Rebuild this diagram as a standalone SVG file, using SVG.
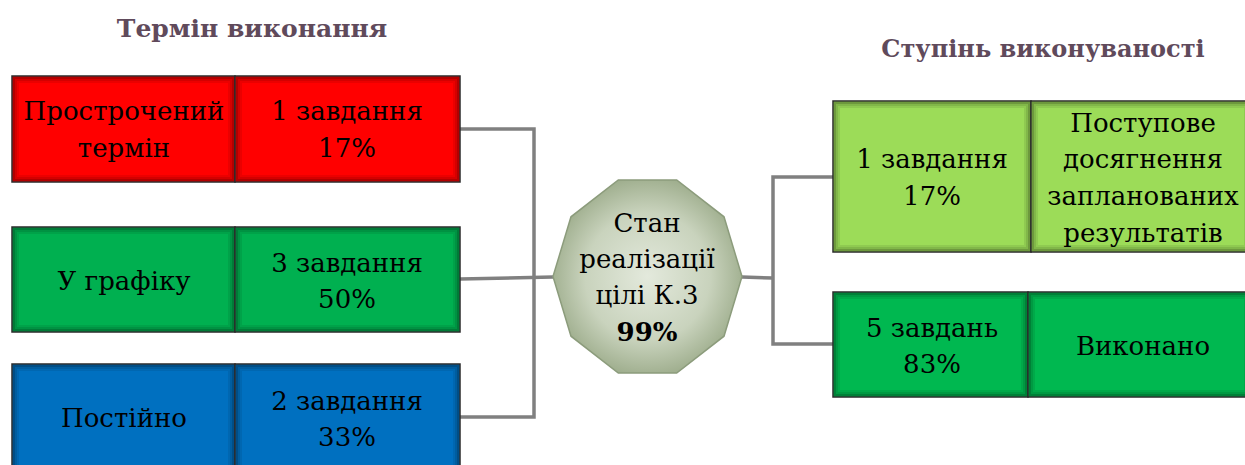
<svg xmlns="http://www.w3.org/2000/svg" width="1245" height="465" viewBox="0 0 1245 465">
<style>
.t{font-family:"DejaVu Serif","Liberation Serif",serif;font-size:26px;fill:#000;text-anchor:middle}
.b{font-weight:bold}
.title{font-family:"DejaVu Serif","Liberation Serif",serif;font-size:25px;font-weight:bold;fill:#604a5b;text-anchor:middle}
.cell{stroke:#2a2a2a;stroke-width:1.5}
.s1,.s2,.s3{fill:none;stroke:#000;stroke-width:2}
.s1{stroke-opacity:0.3}
.s2{stroke-opacity:0.17}
.s3{stroke-opacity:0.08}
.conn{fill:none;stroke:#808080;stroke-width:3.5;stroke-linejoin:miter}
</style>
<defs>
<radialGradient id="oct" cx="50%" cy="50%" r="55%">
<stop offset="0" stop-color="#e3e9dc"/>
<stop offset="0.6" stop-color="#c9d3bd"/>
<stop offset="1" stop-color="#98a886"/>
</radialGradient>
</defs>

<text class="title" x="252" y="37">Термін виконання</text>
<text class="title" x="1043" y="57" style="font-size:24px">Ступінь виконуваності</text>

<g id="connectors">
<polyline class="conn" points="460,129 534,129 534,417 460,417"/>
<line class="conn" x1="460" y1="279" x2="553" y2="277"/>
<line class="conn" x1="742" y1="277" x2="773" y2="278"/>
<polyline class="conn" points="833,177 773,177 773,344 833,344"/>
</g>

<g id="overdue">
<rect class="cell" x="12" y="76" width="223" height="106" fill="#ff0000"/>
<rect class="cell" x="235" y="76" width="225" height="106" fill="#ff0000"/>
<rect class="s1" x="14" y="78" width="219" height="102"/><rect class="s2" x="16" y="80" width="215" height="98"/><rect class="s3" x="18" y="82" width="211" height="94"/>
<rect class="s1" x="237" y="78" width="221" height="102"/><rect class="s2" x="239" y="80" width="217" height="98"/><rect class="s3" x="241" y="82" width="213" height="94"/>
<text class="t" x="124" y="120">Прострочений</text>
<text class="t" x="124" y="157">термін</text>
<text class="t" x="347" y="120">1 завдання</text>
<text class="t" x="347" y="157">17%</text>
</g>

<g id="onschedule">
<rect class="cell" x="12" y="227" width="223" height="105" fill="#00b050"/>
<rect class="cell" x="235" y="227" width="225" height="105" fill="#00b050"/>
<rect class="s1" x="14" y="229" width="219" height="101"/><rect class="s2" x="16" y="231" width="215" height="97"/><rect class="s3" x="18" y="233" width="211" height="93"/>
<rect class="s1" x="237" y="229" width="221" height="101"/><rect class="s2" x="239" y="231" width="217" height="97"/><rect class="s3" x="241" y="233" width="213" height="93"/>
<text class="t" x="124" y="290">У графіку</text>
<text class="t" x="347" y="272">3 завдання</text>
<text class="t" x="347" y="308">50%</text>
</g>

<g id="permanent">
<rect class="cell" x="12" y="364" width="223" height="110" fill="#0070c0"/>
<rect class="cell" x="235" y="364" width="225" height="110" fill="#0070c0"/>
<rect class="s1" x="14" y="366" width="219" height="106"/><rect class="s2" x="16" y="368" width="215" height="102"/><rect class="s3" x="18" y="370" width="211" height="98"/>
<rect class="s1" x="237" y="366" width="221" height="106"/><rect class="s2" x="239" y="368" width="217" height="102"/><rect class="s3" x="241" y="370" width="213" height="98"/>
<text class="t" x="124" y="427">Постійно</text>
<text class="t" x="347" y="410">2 завдання</text>
<text class="t" x="347" y="446">33%</text>
</g>

<g id="center">
<polygon points="742,276.5 724,216.8 676.7,180 618.3,180 571,216.8 553,276.5 571,336.2 618.3,373 676.7,373 724,336.2" fill="url(#oct)" stroke="#8c9c7c" stroke-width="1.5"/>
<text class="t" x="647" y="232">Стан</text>
<text class="t" x="647" y="268">реалізації</text>
<text class="t" x="647" y="304">цілі К.3</text>
<text class="t b" x="647" y="341">99%</text>
</g>

<g id="progressive">
<rect class="cell" x="833" y="101" width="198" height="151" fill="#9cdc58"/>
<rect class="cell" x="1031" y="101" width="220" height="151" fill="#9cdc58"/>
<rect class="s1" x="835" y="103" width="194" height="147"/><rect class="s2" x="837" y="105" width="190" height="143"/><rect class="s3" x="839" y="107" width="186" height="139"/>
<rect class="s1" x="1033" y="103" width="216" height="147"/><rect class="s2" x="1035" y="105" width="212" height="143"/><rect class="s3" x="1037" y="107" width="208" height="139"/>
<text class="t" x="932" y="168">1 завдання</text>
<text class="t" x="932" y="205">17%</text>
<text class="t" x="1143" y="132">Поступове</text>
<text class="t" x="1143" y="168">досягнення</text>
<text class="t" x="1143" y="205">запланованих</text>
<text class="t" x="1143" y="242">результатів</text>
</g>

<g id="done">
<rect class="cell" x="833" y="292" width="195" height="105" fill="#00b850"/>
<rect class="cell" x="1028" y="292" width="223" height="105" fill="#00b850"/>
<rect class="s1" x="835" y="294" width="191" height="101"/><rect class="s2" x="837" y="296" width="187" height="97"/><rect class="s3" x="839" y="298" width="183" height="93"/>
<rect class="s1" x="1030" y="294" width="219" height="101"/><rect class="s2" x="1032" y="296" width="215" height="97"/><rect class="s3" x="1034" y="298" width="211" height="93"/>
<text class="t" x="932" y="337">5 завдань</text>
<text class="t" x="932" y="373">83%</text>
<text class="t" x="1143" y="355">Виконано</text>
</g>
</svg>
